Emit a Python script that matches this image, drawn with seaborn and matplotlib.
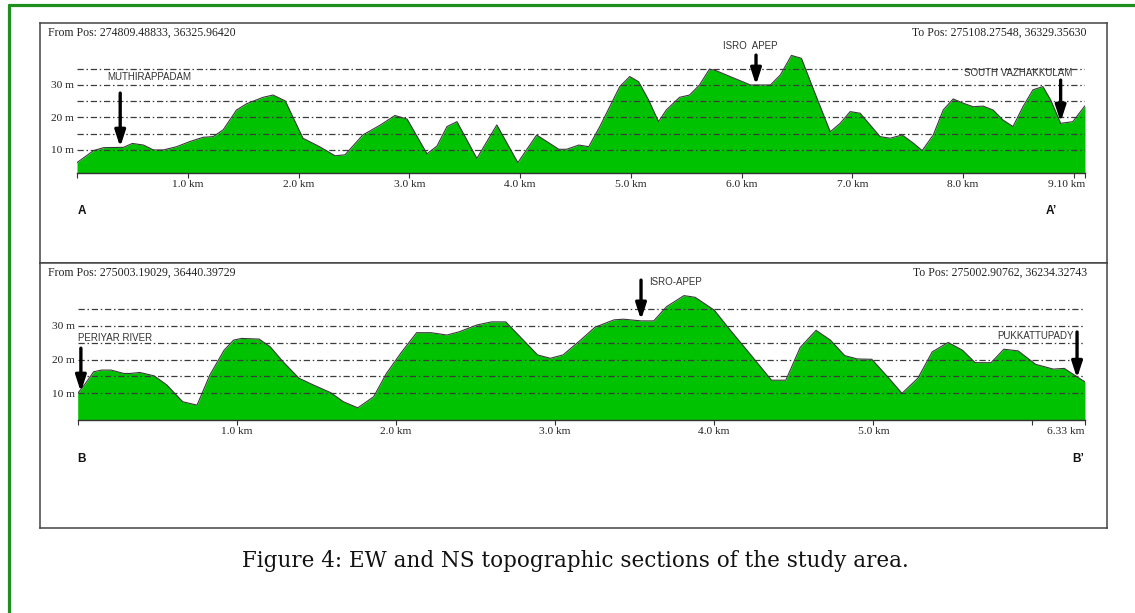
import numpy as np
import pandas as pd
import matplotlib
matplotlib.use("Agg")
import matplotlib.pyplot as plt
import seaborn as sns
from matplotlib.lines import Line2D

# EW section A - A'
ew_km = [0.00, 0.15, 0.24, 0.42, 0.50, 0.60, 0.69, 0.78, 0.90, 1.02, 1.14, 1.23, 1.32, 1.44, 1.53,
         1.68, 1.77, 1.88, 2.04, 2.19, 2.33, 2.42, 2.58, 2.74, 2.87, 2.98, 3.16, 3.25, 3.34, 3.43,
         3.61, 3.79, 3.98, 4.15, 4.35, 4.42, 4.53, 4.62, 4.72, 4.90, 4.99, 5.07, 5.16, 5.25, 5.32,
         5.44, 5.53, 5.62, 5.71, 5.77, 5.91, 6.08, 6.26, 6.35, 6.45, 6.54, 6.65, 6.80, 6.89, 6.98,
         7.07, 7.25, 7.34, 7.45, 7.55, 7.63, 7.73, 7.82, 7.91, 8.00, 8.09, 8.18, 8.27, 8.36, 8.45,
         8.54, 8.63, 8.72, 8.79, 8.88, 8.99, 9.10]
ew_elev = [6.1, 9.8, 10.7, 10.8, 12.0, 11.5, 10.0, 10.0, 11.0, 12.6, 13.9, 14.1, 16.2, 22.3, 24.2,
           26.2, 26.9, 25.1, 13.6, 11.0, 8.2, 8.5, 14.6, 17.7, 20.6, 19.5, 8.8, 11.2, 17.2, 18.7,
           7.4, 17.7, 6.1, 14.6, 10.2, 10.2, 11.5, 11.0, 17.2, 29.5, 32.6, 31.0, 25.4, 18.7, 22.3,
           26.2, 26.9, 30.0, 34.9, 34.4, 32.4, 30.0, 30.0, 33.1, 39.1, 38.2, 28.5, 15.6, 18.2, 21.8,
           21.3, 14.1, 13.6, 14.6, 12.1, 9.8, 14.6, 22.3, 25.7, 24.4, 23.3, 23.5, 22.3, 19.2, 17.2,
           23.3, 28.5, 29.5, 25.4, 18.2, 18.7, 23.6]

# NS section B - B'
ns_km = [0.00, 0.05, 0.10, 0.15, 0.21, 0.29, 0.33, 0.39, 0.48, 0.56, 0.66, 0.75, 0.83, 0.92, 0.98,
         1.03, 1.14, 1.21, 1.29, 1.39, 1.48, 1.59, 1.67, 1.76, 1.86, 1.94, 2.03, 2.13, 2.22, 2.32,
         2.40, 2.51, 2.60, 2.69, 2.78, 2.89, 2.97, 3.05, 3.16, 3.25, 3.37, 3.43, 3.54, 3.62, 3.70,
         3.81, 3.88, 4.00, 4.10, 4.23, 4.36, 4.45, 4.54, 4.64, 4.73, 4.82, 4.90, 4.99, 5.09, 5.18,
         5.28, 5.37, 5.47, 5.56, 5.64, 5.74, 5.82, 5.91, 6.02, 6.13, 6.20, 6.28, 6.33]
ns_elev = [10.0, 13.0, 16.4, 16.9, 16.9, 15.9, 15.9, 16.2, 15.2, 12.5, 7.5, 6.5, 15.4, 22.8, 25.8,
           26.3, 26.1, 23.8, 19.4, 14.5, 12.5, 10.2, 7.5, 5.7, 9.0, 15.9, 21.9, 28.0, 28.0, 27.3,
           28.3, 30.3, 31.2, 31.2, 26.8, 21.4, 20.4, 21.4, 25.8, 29.6, 31.8, 32.0, 31.5, 31.5, 35.7,
           39.0, 38.5, 34.7, 28.8, 21.4, 13.9, 13.9, 23.6, 28.7, 25.8, 21.2, 20.2, 20.1, 14.9, 10.0,
           14.5, 22.3, 25.1, 22.8, 19.1, 19.1, 23.1, 22.6, 18.6, 17.2, 17.4, 14.9, 13.4]

ew_ticks = [0, 1, 2, 3, 4, 5, 6, 7, 8, 9, 9.10]
ew_ticklabels = ["", "1.0 km", "2.0 km", "3.0 km", "4.0 km", "5.0 km", "6.0 km", "7.0 km", "8.0 km", "", "9.10 km"]
ns_ticks = [0, 1, 2, 3, 4, 5, 6, 6.33]
ns_ticklabels = ["", "1.0 km", "2.0 km", "3.0 km", "4.0 km", "5.0 km", "", "6.33 km"]

grid_levels = [10, 15, 20, 25, 30, 35]
y_ticks = [10, 20, 30]
y_ticklabels = ["10 m", "20 m", "30 m"]

ew_places = ["MUTHIRAPPADAM", "ISRO  APEP", "SOUTH VAZHAKKULAM"]
ew_place_km = [0.39, 6.13, 8.88]
ew_place_elev = [10.9, 30.0, 18.6]
ns_places = ["PERIYAR RIVER", "ISRO-APEP", "PUKKATTUPADY"]
ns_place_km = [0.02, 3.54, 6.28]
ns_place_elev = [10.4, 31.8, 14.5]

ew_from = "From Pos: 274809.48833, 36325.96420"
ew_to = "To Pos: 275108.27548, 36329.35630"
ns_from = "From Pos: 275003.19029, 36440.39729"
ns_to = "To Pos: 275002.90762, 36234.32743"

caption = "Figure 4: EW and NS topographic sections of the study area."

sns.set_theme(style="white")
plt.rcParams["font.family"] = ["Liberation Serif", "DejaVu Serif"]

W, H = 1135, 613
fig = plt.figure(figsize=(W / 100, H / 100), dpi=100)


def rect(l, t, r, b):
    return [l / W, 1 - b / H, (r - l) / W, (b - t) / H]


green = "#00c200"
grid_col = "#3c3c3c"

# outer green frame
fig.add_artist(Line2D([9 / W, 9 / W], [0, 1 - 5 / H], color="#1f8f1f", lw=2.3))
fig.add_artist(Line2D([9 / W, 1], [1 - 5 / H, 1 - 5 / H], color="#1f8f1f", lw=2.3))

# panel boxes
for box in [(40, 23, 1107, 263), (40, 263, 1107, 528)]:
    fax = fig.add_axes(rect(*box))
    fax.set_xticks([])
    fax.set_yticks([])
    fax.set_facecolor("white")
    for s in fax.spines.values():
        s.set_color("#444444")
        s.set_linewidth(1.1)


def draw_profile(ax, km, elev, base, end, ticks, ticklabels, places, pkm, pelev, layout):
    df = pd.DataFrame({"km": km, "elev": elev})
    ax.fill_between(df["km"], base, df["elev"], color=green, lw=0, zorder=1)
    sns.lineplot(data=df, x="km", y="elev", ax=ax, color="#3a3a3a", lw=0.8, zorder=3)
    ax.hlines(grid_levels, 0, end, colors=grid_col, lw=0.9,
              linestyles=[(0, (5, 2.2, 1.2, 2.2))], zorder=2)
    ax.set_xlim(0, end)
    ax.set_ylim(base, 42)
    ax.set_facecolor("none")
    for side in ["left", "top", "right"]:
        ax.spines[side].set_visible(False)
    ax.spines["bottom"].set_color("#333333")
    ax.spines["bottom"].set_linewidth(1.0)
    ax.set_xticks(ticks, ticklabels)
    ax.set_yticks(y_ticks, y_ticklabels)
    ax.tick_params(axis="x", direction="out", length=3.5, width=0.8, color="#333333",
                   pad=1.5, labelsize=8.2, labelcolor="#222222", bottom=True)
    ax.tick_params(axis="y", length=0, pad=2, labelsize=8.2, labelcolor="#222222", left=True)
    ax.get_xticklabels()[-1].set_horizontalalignment("right")
    ax.set_xlabel("")
    ax.set_ylabel("")
    for name, x, y, (tail, tx, ty, ha) in zip(places, pkm, pelev, layout):
        ax.annotate("", xy=(x, y), xytext=(x, tail),
                    arrowprops=dict(arrowstyle="-|>,head_width=0.26,head_length=0.8",
                                    lw=2.4, color="black", shrinkA=0, shrinkB=0,
                                    mutation_scale=12),
                    annotation_clip=False, zorder=5)
        ax.text(tx, ty, name, ha=ha, va="center", fontsize=7, color="#333333",
                family=["Liberation Sans", "DejaVu Sans"], clip_on=False, zorder=5)


ax1 = fig.add_axes(rect(77, 46, 1085, 173))
draw_profile(ax1, ew_km, ew_elev, 2.9, 9.10, ew_ticks, ew_ticklabels,
             ew_places, ew_place_km, ew_place_elev,
             [(27.5, 0.27, 32.5, "left"), (39.2, 6.08, 42.0, "center"), (31.5, 8.50, 33.7, "center")])

ax2 = fig.add_axes(rect(77.7, 285.5, 1085, 420.3))
draw_profile(ax2, ns_km, ns_elev, 2.0, 6.33, ns_ticks, ns_ticklabels,
             ns_places, ns_place_km, ns_place_elev,
             [(23.4, 0.0, 26.3, "left"), (43.6, 3.59, 43.0, "left"), (28.2, 6.02, 27.0, "center")])

# header texts
for t, x, y, ha in [(ew_from, 48, 33, "left"), (ew_to, 1087, 33, "right"),
                    (ns_from, 48, 273, "left"), (ns_to, 1087, 273, "right")]:
    fig.text(x / W, 1 - y / H, t, ha=ha, va="center", fontsize=8.5, color="#222222")

# section end letters
for t, x, y in [("A", 78, 211), ("A\u2019", 1046, 211), ("B", 77, 459), ("B\u2019", 1072, 459)]:
    fig.text(x / W, 1 - y / H, t, ha="left", va="center", fontsize=8.5, fontweight="bold",
             family=["Liberation Sans", "DejaVu Sans"], color="#111111")

fig.text(575.5 / W, 1 - 561 / H, caption, ha="center", va="center", fontsize=15.5,
         family=["DejaVu Serif"], color="#111111")

fig.savefig("out.png", dpi=100)
